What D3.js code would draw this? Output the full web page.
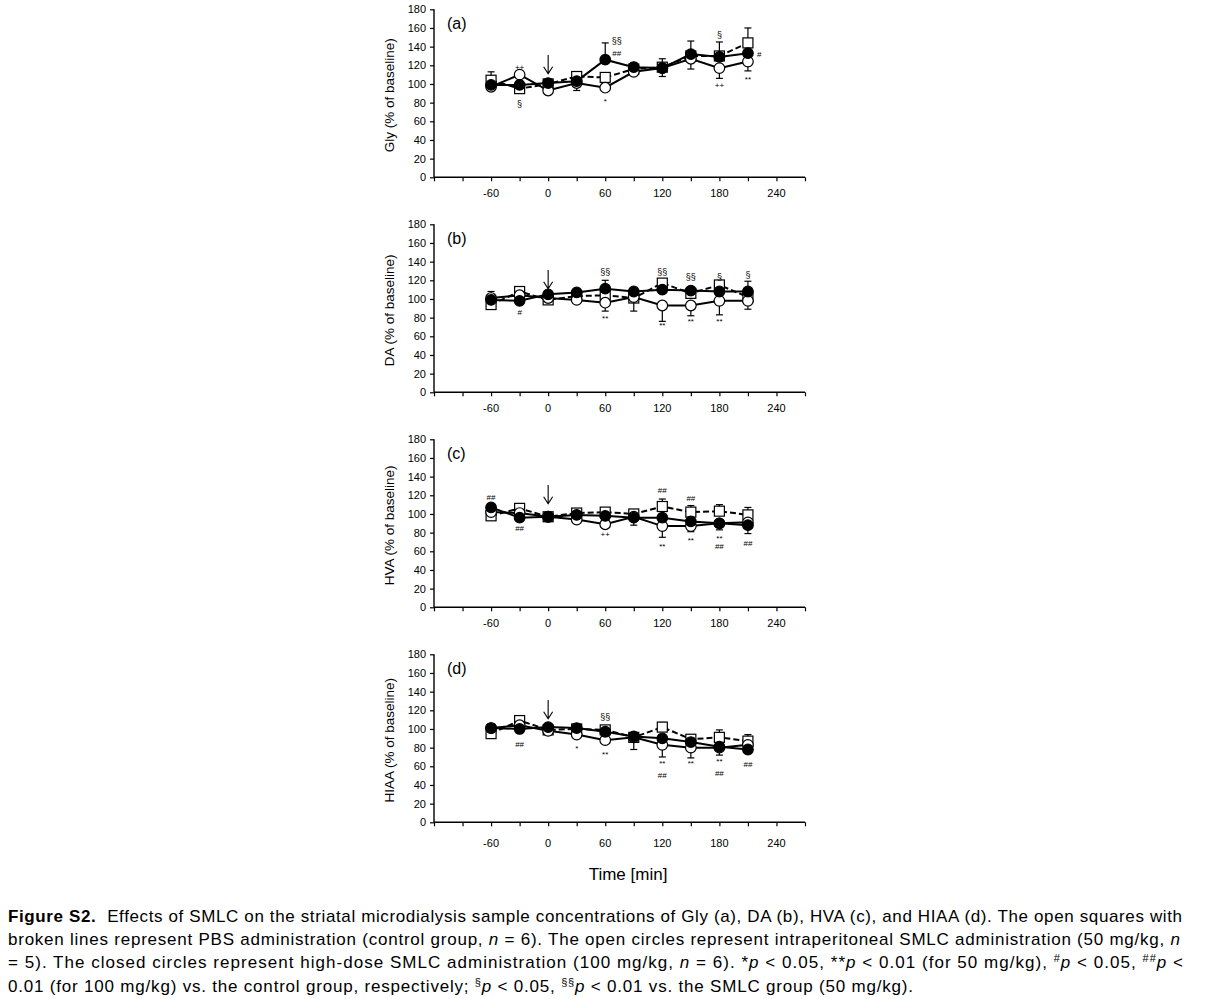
<!DOCTYPE html>
<html>
<head>
<meta charset="utf-8">
<script src="https://cdnjs.cloudflare.com/ajax/libs/d3/7.8.5/d3.min.js"></script>
<style>
  body { margin: 0; background: #fff; }
  svg { display: block; }
  text { font-family: "Liberation Sans", Arial, sans-serif; fill: #000; }
</style>
</head>
<body>
<svg id="fig" width="1208" height="999"></svg>
<script>
// sampling times (min), injection at 0
var times = [-60, -30, 0, 30, 60, 90, 120, 150, 180, 210];
var xTickLabels = [-60, 0, 60, 120, 180, 240];
var yTickValues = [0, 20, 40, 60, 80, 100, 120, 140, 160, 180];

var panelNames = ["Gly", "DA", "HVA", "HIAA"];
var panelTags = ["(a)", "(b)", "(c)", "(d)"];

// % of baseline — PBS control (open squares), SMLC 50 (open circles), SMLC 100 (closed circles)
var glyCtrl = [104, 95, 100, 108, 107, 116, 118, 130, 130, 144];
var glySmlc50 = [97, 110, 93, 101, 96, 113, 117, 127, 117, 124];
var glySmlc100 = [99, 99, 101, 103, 126, 118, 117, 132, 129, 133];

var daCtrl = [94, 108, 99, 103, 104, 101, 117, 106, 115, 102];
var daSmlc50 = [101, 104, 101, 99, 96, 102, 93, 93, 98, 98];
var daSmlc100 = [99, 98, 105, 107, 111, 108, 110, 109, 108, 108];

var hvaCtrl = [98, 106, 97, 101, 102, 100, 108, 102, 103, 99];
var hvaSmlc50 = [102, 101, 97, 94, 89, 97, 87, 87, 90, 91];
var hvaSmlc100 = [107, 96, 97, 99, 98, 96, 96, 92, 90, 88];

var hiaaCtrl = [95, 109, 99, 100, 99, 91, 102, 89, 91, 87];
var hiaaSmlc50 = [101, 104, 98, 94, 88, 91, 83, 80, 80, 83];
var hiaaSmlc100 = [101, 100, 102, 101, 97, 92, 90, 86, 81, 78];

// SEM shown on one side only: + drawn upward, - drawn downward, 0 hidden
var glyCtrlErr = [9, 0, 0, 3, 0, 4, 9, 0, 15, 16];
var glySmlc50Err = [-3, 0, 0, -8, 0, -4, 0, -11, -11, -10];
var glySmlc100Err = [0, 0, 0, 0, 18, 5, -9, 14, 0, 0];

var daCtrlErr = [0, 0, 0, 0, 0, -14, 0, 0, 0, 0];
var daSmlc50Err = [0, 0, 0, 0, -9, 0, -17, -11, -15, -9];
var daSmlc100Err = [9, 0, 0, 0, 9, 0, 0, 0, 3, 11];

var hvaCtrlErr = [0, 0, 0, 0, 3, 4, 8, 7, 7, 8];
var hvaSmlc50Err = [0, 0, 0, 0, 0, -9, -12, -6, 0, -12];
var hvaSmlc100Err = [0, 0, 0, 0, 0, 0, 0, 0, -7, 0];

var hiaaCtrlErr = [0, 3, 0, 0, 0, 0, 5, 3, 8, 7];
var hiaaSmlc50Err = [0, 0, 0, 0, 0, -13, -13, -11, 0, 0];
var hiaaSmlc100Err = [0, 0, 0, 0, 0, 0, 0, 0, -9, 0];

// significance marks: [time, value, mark]
var glyMarks = [[-30, 118.5, "++"], [-30, 78.5, "§"], [72, 146, "§§"], [72, 133, "##"], [60, 81.7, "*"],
  [180, 152.5, "§"], [180, 99, "++"], [222, 132, "#"], [210, 105, "**"]];
var daMarks = [[60, 129.3, "§§"], [120, 129.3, "§§"], [150, 124, "§§"], [180, 124, "§"], [210, 125.8, "§"],
  [-30, 85.5, "#"], [60, 79.3, "**"], [120, 72.2, "**"], [150, 75.8, "**"], [180, 75.8, "**"]];
var hvaMarks = [[-60, 118, "##"], [-30, 85, "##"], [60, 77.9, "++"], [120, 125, "##"], [120, 65.4, "**"],
  [150, 116.5, "##"], [150, 71.5, "**"], [180, 74.4, "**"], [180, 65.4, "##"], [210, 69, "##"]];
var hiaaMarks = [[-30, 83.3, "##"], [30, 79, "*"], [60, 73.3, "**"], [60, 112.5, "§§"], [120, 63.6, "**"],
  [120, 50, "##"], [150, 63.6, "**"], [180, 65.4, "**"], [180, 53, "##"], [210, 61.8, "##"]];

// injection arrow (value range at t = 0)
var arrowFrom = 131, arrowTo = 111;

var panels = [
  { series: [glyCtrl, glySmlc50, glySmlc100], errs: [glyCtrlErr, glySmlc50Err, glySmlc100Err], marks: glyMarks },
  { series: [daCtrl, daSmlc50, daSmlc100], errs: [daCtrlErr, daSmlc50Err, daSmlc100Err], marks: daMarks },
  { series: [hvaCtrl, hvaSmlc50, hvaSmlc100], errs: [hvaCtrlErr, hvaSmlc50Err, hvaSmlc100Err], marks: hvaMarks },
  { series: [hiaaCtrl, hiaaSmlc50, hiaaSmlc100], errs: [hiaaCtrlErr, hiaaSmlc50Err, hiaaSmlc100Err], marks: hiaaMarks }
];

var svg = d3.select("#fig");
var plotTop = [9.3, 224.3, 439.3, 654.3];
var plotH = 168;
var labelGap = [16, 16, 16, 20.5];

var x = d3.scaleLinear().domain([-120, 270]).range([434, 805]);

panels.forEach(function (p, k) {
  var y = d3.scaleLinear().domain([0, 180]).range([plotTop[k] + plotH, plotTop[k]]);
  var g = svg.append("g");

  // y axis
  var yAxis = g.append("g")
    .attr("transform", "translate(" + x.range()[0] + ",0)")
    .call(d3.axisLeft(y).tickValues(yTickValues).tickSize(4).tickPadding(4));
  yAxis.select(".domain").attr("stroke-width", 1.4).attr("d", "M0," + y(180) + "V" + y(0));
  yAxis.selectAll(".tick line").attr("stroke-width", 1.2);
  yAxis.selectAll("text").style("font-size", "11px").attr("fill", "#000");

  // x axis: ticks every 30 min, labels every 60
  var xAxis = g.append("g")
    .attr("transform", "translate(0," + y(0) + ")")
    .call(d3.axisBottom(x).tickValues(d3.range(-120, 271, 30)).tickSize(4).tickFormat(""));
  xAxis.select(".domain").attr("stroke-width", 1.4).attr("d", "M" + x.range()[0] + ",0H" + x.range()[1]);
  xAxis.selectAll(".tick line").attr("stroke-width", 1.2);
  g.selectAll("text.xlab").data(xTickLabels).enter().append("text")
    .attr("class", "xlab")
    .attr("x", function (d) { return x(d); })
    .attr("y", y(0) + labelGap[k] + 4)
    .attr("text-anchor", "middle")
    .style("font-size", "11px")
    .text(function (d) { return d; });

  // y title
  g.append("text")
    .attr("transform", "translate(394," + (plotTop[k] + 86) + ") rotate(-90)")
    .attr("text-anchor", "middle")
    .style("font-size", "13.5px")
    .text(panelNames[k] + " (% of baseline)");

  // panel tag
  g.append("text")
    .attr("x", 447).attr("y", plotTop[k] + 20)
    .style("font-size", "16px")
    .text(panelTags[k]);

  // lines
  var line = d3.line().x(function (d, i) { return x(times[i]); }).y(function (d) { return y(d); });
  p.series.forEach(function (s, si) {
    g.append("path")
      .datum(s)
      .attr("d", line)
      .attr("fill", "none")
      .attr("stroke", "#000")
      .attr("stroke-width", 2)
      .attr("stroke-dasharray", si === 0 ? "6,3" : null);
  });

  // error bars and markers, series by series
  p.series.forEach(function (s, si) {
    var e = p.errs[si];
    var eb = g.append("g").attr("stroke", "#000").attr("stroke-width", 1.2);
    s.forEach(function (v, i) {
      if (!e[i]) return;
      var cx = x(times[i]);
      var y1 = y(v + e[i]);
      eb.append("line").attr("x1", cx).attr("x2", cx).attr("y1", y(v)).attr("y2", y1);
      eb.append("line").attr("x1", cx - 3.5).attr("x2", cx + 3.5).attr("y1", y1).attr("y2", y1);
    });
  });
  p.series.forEach(function (s, si) {
    var mg = g.append("g");
    if (si === 0) {
      mg.selectAll("rect").data(s).enter().append("rect")
        .attr("x", function (d, i) { return x(times[i]) - 5; })
        .attr("y", function (d) { return y(d) - 5; })
        .attr("width", 10).attr("height", 10)
        .attr("fill", "#fff").attr("stroke", "#000").attr("stroke-width", 1.2);
    } else {
      mg.selectAll("circle").data(s).enter().append("circle")
        .attr("cx", function (d, i) { return x(times[i]); })
        .attr("cy", function (d) { return y(d); })
        .attr("r", 5.3)
        .attr("fill", si === 2 ? "#000" : "#fff")
        .attr("stroke", "#000").attr("stroke-width", 1.2);
    }
  });

  // significance marks
  g.selectAll("text.mark").data(p.marks).enter().append("text")
    .attr("class", "mark")
    .attr("x", function (d) { return x(d[0]); })
    .attr("y", function (d) { return y(d[1]); })
    .attr("dy", "0.35em")
    .attr("text-anchor", "middle")
    .style("font-size", function (d) { return d[2].indexOf("§") >= 0 ? "9px" : "8px"; })
    .text(function (d) { return d[2]; });

  // injection arrow
  var ax = x(0), aTop = y(arrowFrom), aBot = y(arrowTo);
  g.append("path")
    .attr("d", "M" + ax + "," + aTop + "V" + aBot + "M" + (ax - 4.5) + "," + (aBot - 7) + "L" + ax + "," + aBot + "L" + (ax + 4.5) + "," + (aBot - 7))
    .attr("fill", "none").attr("stroke", "#000").attr("stroke-width", 1.1);
});

svg.append("text")
  .attr("x", 628).attr("y", 880)
  .attr("text-anchor", "middle")
  .style("font-size", "17px")
  .text("Time [min]");

// caption
var capLines = [
  [["b", "Figure S2."], ["", "\u00a0\u00a0Effects of SMLC on the striatal microdialysis sample concentrations of Gly (a), DA (b), HVA (c), and HIAA (d). The open squares with"]],
  [["", "broken lines represent PBS administration (control group, "], ["i", "n"], ["", " = 6). The open circles represent intraperitoneal SMLC administration (50 mg/kg, "], ["i", "n"]],
  [["", "= 5). The closed circles represent high-dose SMLC administration (100 mg/kg, "], ["i", "n"], ["", " = 6). *"], ["i", "p"], ["", " < 0.05, **"], ["i", "p"],
   ["", " < 0.01 (for 50 mg/kg), "], ["s", "#"], ["i", "p"], ["", " < 0.05, "], ["s", "##"], ["i", "p"], ["", " <"]],
  [["", "0.01 (for 100 mg/kg) vs. the control group, respectively; "], ["s", "§"], ["i", "p"], ["", " < 0.05, "], ["s", "§§"], ["i", "p"], ["", " < 0.01 vs. the SMLC group (50 mg/kg)."]]
];
var capWidths = [1174, 1172, 1175, 905];
var capBase = 921.5;
var capStep = 23.4;

capLines.forEach(function (parts, li) {
  var t = svg.append("text")
    .attr("x", 8)
    .attr("y", capBase + li * capStep)
    .attr("textLength", capWidths[li])
    .attr("lengthAdjust", "spacing")
    .style("font-size", "17px");
  parts.forEach(function (pt) {
    var ts = t.append("tspan").text(pt[1]);
    if (pt[0] === "b") ts.style("font-weight", "bold");
    if (pt[0] === "i") ts.style("font-style", "italic");
    if (pt[0] === "s") ts.attr("baseline-shift", "super").style("font-size", "11px");
  });
});
</script>
</body>
</html>
